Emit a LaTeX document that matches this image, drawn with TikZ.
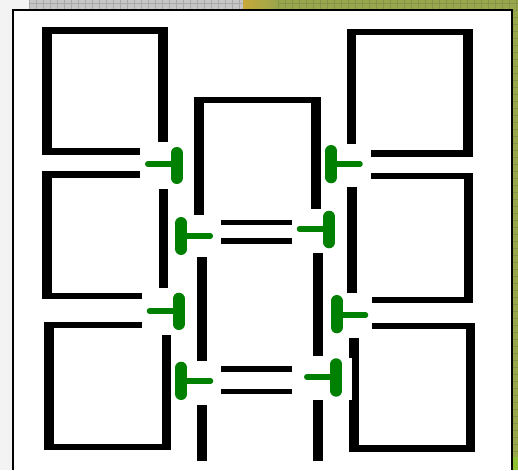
\documentclass[tikz,border=0pt]{standalone}
\definecolor{tgreen}{HTML}{008000}
\definecolor{olivebg}{HTML}{98A64C}
\definecolor{olivegrid}{HTML}{86944A}
\definecolor{graybg}{HTML}{C6C6C6}
\definecolor{graygrid}{HTML}{A8A8A8}
\definecolor{yellowbg}{HTML}{C8A83A}
\definecolor{brightgreen}{HTML}{8CC030}
\definecolor{outerbg}{HTML}{F3F3F3}
\tikzset{
  tbar/.style={tgreen, line width=12pt, line cap=round},
  tstem/.style={tgreen, line width=5.5pt, line cap=round},
  wall/.style={fill=black},
  framel/.style={black, line width=2pt}
}
\begin{document}
\begin{tikzpicture}[x=1pt,y=-1pt]
\useasboundingbox (0,0) rectangle (518,470);
% background
\fill[outerbg] (0,0) rectangle (518,470);
\fill[graybg] (29,0) rectangle (245,10);
\foreach \gx in {29,36,...,245} {\draw[graygrid, line width=0.5pt] (\gx,0) -- (\gx,10);}
\draw[graygrid, line width=0.5pt] (29,3.3) -- (245,3.3);
\fill[olivebg] (245,0) rectangle (518,10);
\shade[left color=yellowbg, right color=olivebg] (243,0) rectangle (278,10);
\fill[olivebg] (511,0) rectangle (518,470);
\foreach \gx in {278,285,...,518} {\draw[olivegrid, line width=0.5pt] (\gx,0) -- (\gx,10);}
\draw[olivegrid, line width=0.5pt] (278,3.3) -- (518,3.3);
\foreach \gy in {10,17,...,460} {\draw[olivegrid, line width=0.5pt] (513,\gy) -- (518,\gy);}
\fill[brightgreen] (513,457) rectangle (518,470);
% frame
\fill[white] (12,10) rectangle (512,470);
\draw[framel] (13,470) -- (13,10) -- (511.8,10) -- (511.8,470);
% left column boxes
\fill[wall] (42.3,27.3) rectangle (168.3,34);
\fill[wall] (42.3,27.3) rectangle (52.3,155);
\fill[wall] (158.3,27.3) rectangle (168.3,141.7);
\fill[wall] (42.3,147.8) rectangle (140,155);
\fill[wall] (42,171.2) rectangle (140,177.6);
\fill[wall] (42.3,171.2) rectangle (51.7,299.3);
\fill[wall] (42.3,293) rectangle (142,299.3);
\fill[wall] (159,189.3) rectangle (168,287.7);
\fill[wall] (44.3,322) rectangle (142,328);
\fill[wall] (44.3,322) rectangle (54.3,450);
\fill[wall] (44.3,443.5) rectangle (171,450);
\fill[wall] (161.7,335) rectangle (171,450);
% centre column
\fill[wall] (194.3,97.3) rectangle (321,103.3);
\fill[wall] (194.3,97.3) rectangle (204.3,215);
\fill[wall] (311,97.3) rectangle (321,209.3);
\fill[wall] (196.7,257) rectangle (206.7,361);
\fill[wall] (196.7,405) rectangle (206.7,460.7);
\fill[wall] (313.3,253) rectangle (323.3,356);
\fill[wall] (313.3,400) rectangle (323.3,460.7);
\fill[wall] (221,219.8) rectangle (292,225);
\fill[wall] (221,238.3) rectangle (292,243.5);
\fill[wall] (221,366) rectangle (292,371.7);
\fill[wall] (221,388.5) rectangle (292,394);
% right column boxes
\fill[wall] (346.7,29.3) rectangle (472.7,35);
\fill[wall] (346.7,29.3) rectangle (356,144);
\fill[wall] (463.3,29.3) rectangle (472.7,156.7);
\fill[wall] (371,150.5) rectangle (472.7,156.7);
\fill[wall] (371,173.3) rectangle (473,179.3);
\fill[wall] (347.3,187.3) rectangle (356.7,293.3);
\fill[wall] (463.5,173.3) rectangle (473,303);
\fill[wall] (372,296.7) rectangle (473,303);
\fill[wall] (372,322.7) rectangle (475,329);
\fill[wall] (349,338.3) rectangle (359,451.7);
\fill[wall] (465.7,322.7) rectangle (475,451.7);
\fill[wall] (349,445) rectangle (475,451.7);
\fill[white] (343,357.5) rectangle (351.5,400);
% green T marks
\draw[tbar] (176.7,153) -- (176.7,178); \draw[tstem] (176.7,164) -- (147.8,164);
\draw[tbar] (181.2,223) -- (181.2,249); \draw[tstem] (181.2,236) -- (210.3,236);
\draw[tbar] (329.2,216.7) -- (329.2,242.3); \draw[tstem] (329.2,229) -- (299.5,229);
\draw[tbar] (331.2,151) -- (331.2,177.3); \draw[tstem] (331.2,164) -- (360,164);
\draw[tbar] (178.8,298.7) -- (178.8,324); \draw[tstem] (178.8,311) -- (149.5,311);
\draw[tbar] (181.2,367.7) -- (181.2,394); \draw[tstem] (181.2,381) -- (210.5,381);
\draw[tbar] (336.7,301) -- (336.7,327.3); \draw[tstem] (336.7,315) -- (365.5,315);
\draw[tbar] (336.3,364.3) -- (336.3,390.7); \draw[tstem] (336.3,377) -- (306.8,377);
\end{tikzpicture}
\end{document}
